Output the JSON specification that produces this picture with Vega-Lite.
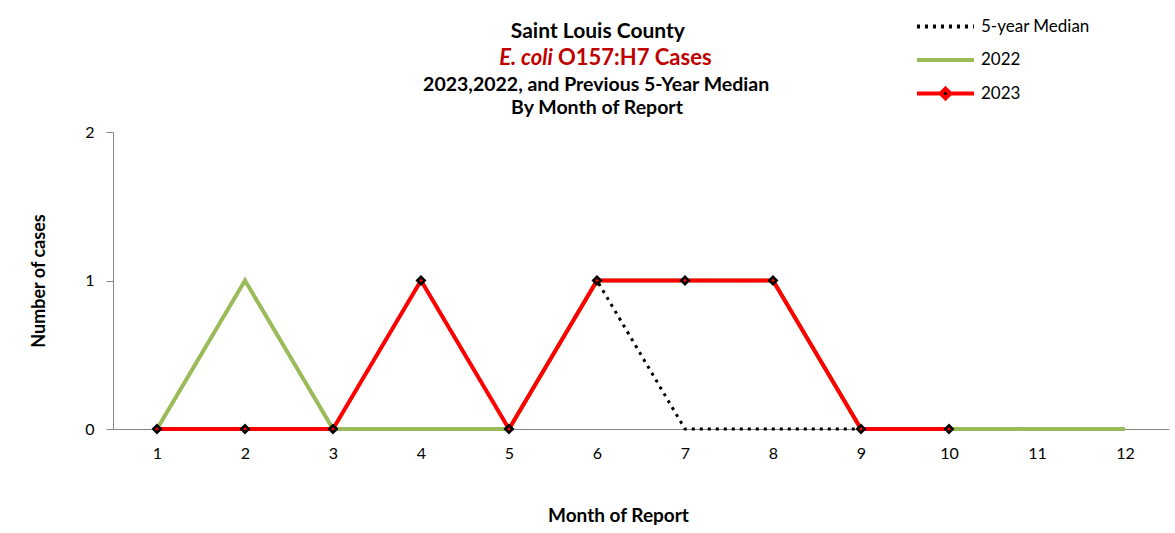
{
  "$schema": "https://vega.github.io/schema/vega-lite/v6.json",
  "width": 1056,
  "height": 297,
  "autosize": {"type": "none"},
  "padding": {"left": 113, "top": 132, "right": 6, "bottom": 104},
  "background": "white",
  "config": {
    "view": {"stroke": null},
    "font": "Lato",
    "axis": {"grid": false, "domainColor": "#868686", "tickColor": "#868686", "labelColor": "black", "labelFont": "Lato", "labelFontSize": 16, "titleFont": "Lato", "titleFontSize": 18, "titleFontWeight": "bold", "titleColor": "black"},
    "legend": {"orient": "none", "legendX": 802, "legendY": -122, "symbolType": "stroke", "symbolSize": 3249, "symbolStrokeWidth": 4, "labelFont": "Lato", "labelFontSize": 17, "labelColor": "black", "labelOffset": 5, "clipHeight": 33, "rowPadding": 0.5}
  },
  "datasets": {
    "cases": [
      {"month": 1, "series": "5-year Median", "cases": 0},
      {"month": 2, "series": "5-year Median", "cases": 0},
      {"month": 3, "series": "5-year Median", "cases": 0},
      {"month": 4, "series": "5-year Median", "cases": 0},
      {"month": 5, "series": "5-year Median", "cases": 0},
      {"month": 6, "series": "5-year Median", "cases": 1},
      {"month": 7, "series": "5-year Median", "cases": 0},
      {"month": 8, "series": "5-year Median", "cases": 0},
      {"month": 9, "series": "5-year Median", "cases": 0},
      {"month": 10, "series": "5-year Median", "cases": 0},
      {"month": 11, "series": "5-year Median", "cases": 0},
      {"month": 12, "series": "5-year Median", "cases": 0},
      {"month": 1, "series": "2022", "cases": 0},
      {"month": 2, "series": "2022", "cases": 1},
      {"month": 3, "series": "2022", "cases": 0},
      {"month": 4, "series": "2022", "cases": 0},
      {"month": 5, "series": "2022", "cases": 0},
      {"month": 6, "series": "2022", "cases": 1},
      {"month": 7, "series": "2022", "cases": 1},
      {"month": 8, "series": "2022", "cases": 1},
      {"month": 9, "series": "2022", "cases": 0},
      {"month": 10, "series": "2022", "cases": 0},
      {"month": 11, "series": "2022", "cases": 0},
      {"month": 12, "series": "2022", "cases": 0},
      {"month": 1, "series": "2023", "cases": 0},
      {"month": 2, "series": "2023", "cases": 0},
      {"month": 3, "series": "2023", "cases": 0},
      {"month": 4, "series": "2023", "cases": 1},
      {"month": 5, "series": "2023", "cases": 0},
      {"month": 6, "series": "2023", "cases": 1},
      {"month": 7, "series": "2023", "cases": 1},
      {"month": 8, "series": "2023", "cases": 1},
      {"month": 9, "series": "2023", "cases": 0},
      {"month": 10, "series": "2023", "cases": 0}
    ],
    "one": [{"k": 1}]
  },
  "layer": [
    {
      "data": {"name": "cases"},
      "transform": [{"filter": "datum.series === '5-year Median'"}],
      "mark": {"type": "line", "strokeWidth": 3, "strokeCap": "butt"},
      "encoding": {
        "x": {"field": "month", "type": "quantitative", "scale": {"domain": [0.5, 12.5], "nice": false, "zero": false},
              "axis": {"values": [1,2,3,4,5,6,7,8,9,10,11,12], "format": "d", "ticks": false, "labelPadding": 16, "title": "Month of Report", "titleFontSize": 19, "titleX": 505, "titlePadding": 45}},
        "y": {"field": "cases", "type": "quantitative", "scale": {"domain": [0, 2], "nice": false},
              "axis": {"tickCount": 2, "labelOverlap": false, "labelExpr": "format(datum.value, 'd')", "tickSize": 7, "labelPadding": 12, "title": "Number of cases", "titlePadding": 36}},
        "color": {"field": "series", "type": "nominal", "scale": {"domain": ["5-year Median", "2022", "2023"], "range": ["black", "#9BBB59", "#FF0000"]},
                  "legend": {"title": null, "encode": {"symbols": {"update": {"shape": {"signal": "datum.value === '2023' ? 'M-1,0H-0.2M0.2,0H1M0,-0.17L0.17,0L0,0.17L-0.17,0Z' : 'stroke'"}, "fill": {"signal": "datum.value === '2023' ? 'black' : 'transparent'"}}}}}},
        "strokeDash": {"field": "series", "type": "nominal", "scale": {"domain": ["5-year Median", "2022", "2023"], "range": [[3, 5], [1, 0], [1, 0]]}, "legend": {"title": null}}
      }
    },
    {
      "data": {"name": "cases"},
      "transform": [{"filter": "datum.series === '2022'"}],
      "mark": {"type": "line", "strokeWidth": 4},
      "encoding": {
        "x": {"field": "month", "type": "quantitative"},
        "y": {"field": "cases", "type": "quantitative"},
        "color": {"field": "series", "type": "nominal"},
        "strokeDash": {"field": "series", "type": "nominal"}
      }
    },
    {
      "data": {"name": "cases"},
      "transform": [{"filter": "datum.series === '2023'"}],
      "mark": {"type": "line", "strokeWidth": 4},
      "encoding": {
        "x": {"field": "month", "type": "quantitative"},
        "y": {"field": "cases", "type": "quantitative"},
        "color": {"field": "series", "type": "nominal"},
        "strokeDash": {"field": "series", "type": "nominal"}
      }
    },
    {
      "data": {"name": "cases"},
      "transform": [{"filter": "datum.series === '2023'"}],
      "mark": {"type": "point", "shape": "diamond", "filled": true, "fill": "#FF0000", "stroke": "black", "strokeWidth": 2.5, "size": 55, "opacity": 1},
      "encoding": {
        "x": {"field": "month", "type": "quantitative"},
        "y": {"field": "cases", "type": "quantitative"}
      }
    },
    {
      "data": {"name": "one"},
      "mark": {"type": "text", "text": "Saint Louis County", "fontSize": 21, "fontWeight": "bold", "color": "black", "align": "center", "baseline": "middle"},
      "encoding": {"x": {"datum": 6.01, "type": "quantitative"}, "y": {"datum": 2.673, "type": "quantitative"}}
    },
    {
      "data": {"name": "one"},
      "mark": {"type": "text", "text": "E. coli", "fontSize": 22, "fontWeight": "bold", "fontStyle": "italic", "color": "#C00000", "align": "right", "baseline": "middle"},
      "encoding": {"x": {"datum": 5.5, "type": "quantitative"}, "y": {"datum": 2.498, "type": "quantitative"}}
    },
    {
      "data": {"name": "one"},
      "mark": {"type": "text", "text": "O157:H7 Cases", "fontSize": 22, "fontWeight": "bold", "color": "#C00000", "align": "left", "baseline": "middle"},
      "encoding": {"x": {"datum": 5.557, "type": "quantitative"}, "y": {"datum": 2.498, "type": "quantitative"}}
    },
    {
      "data": {"name": "one"},
      "mark": {"type": "text", "text": "2023,2022,  and Previous 5-Year Median", "fontSize": 19.5, "fontWeight": "bold", "color": "black", "align": "center", "baseline": "middle"},
      "encoding": {"x": {"datum": 5.99, "type": "quantitative"}, "y": {"datum": 2.318, "type": "quantitative"}}
    },
    {
      "data": {"name": "one"},
      "mark": {"type": "text", "text": "By Month of Report", "fontSize": 19.5, "fontWeight": "bold", "color": "black", "align": "center", "baseline": "middle"},
      "encoding": {"x": {"datum": 6.0, "type": "quantitative"}, "y": {"datum": 2.162, "type": "quantitative"}}
    }
  ]
}
